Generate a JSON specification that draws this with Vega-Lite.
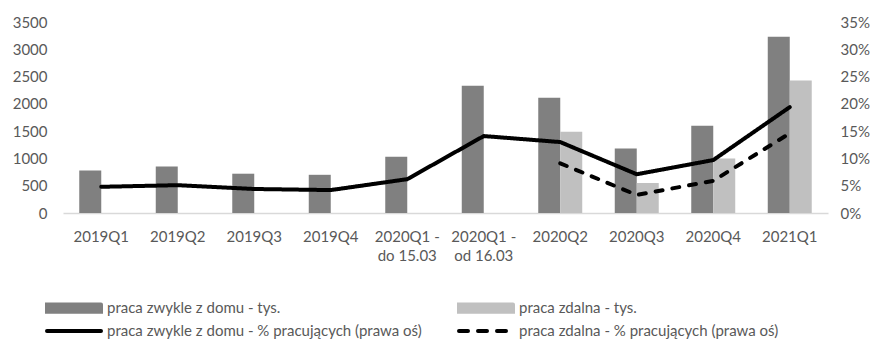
{
  "$schema": "https://vega.github.io/schema/vega-lite/v6.json",
  "width": 765,
  "height": 191,
  "autosize": {"type": "none"},
  "padding": {"left": 63, "top": 22, "right": 58, "bottom": 142},
  "background": "white",
  "config": {
    "view": {"stroke": null},
    "font": "Lato",
    "axis": {"labelFont": "Lato", "labelFontSize": 15, "labelColor": "#595959", "grid": false, "ticks": false, "title": null}
  },
  "layer": [
    {
      "data": {"values": [
        {"q": "2019Q1", "series": "praca zwykle z domu - tys.", "value": 780},
        {"q": "2019Q2", "series": "praca zwykle z domu - tys.", "value": 850},
        {"q": "2019Q3", "series": "praca zwykle z domu - tys.", "value": 720},
        {"q": "2019Q4", "series": "praca zwykle z domu - tys.", "value": 700},
        {"q": "2020Q1 - do 15.03", "series": "praca zwykle z domu - tys.", "value": 1030},
        {"q": "2020Q1 - od 16.03", "series": "praca zwykle z domu - tys.", "value": 2330},
        {"q": "2020Q2", "series": "praca zwykle z domu - tys.", "value": 2110},
        {"q": "2020Q3", "series": "praca zwykle z domu - tys.", "value": 1180},
        {"q": "2020Q4", "series": "praca zwykle z domu - tys.", "value": 1600},
        {"q": "2021Q1", "series": "praca zwykle z domu - tys.", "value": 3230},
        {"q": "2020Q2", "series": "praca zdalna - tys.", "value": 1490},
        {"q": "2020Q3", "series": "praca zdalna - tys.", "value": 550},
        {"q": "2020Q4", "series": "praca zdalna - tys.", "value": 1000},
        {"q": "2021Q1", "series": "praca zdalna - tys.", "value": 2430}
      ]},
      "mark": {"type": "bar"},
      "encoding": {
        "x": {
          "field": "q", "type": "nominal", "sort": null,
          "scale": {"domain": ["2019Q1", "2019Q2", "2019Q3", "2019Q4", "2020Q1 - do 15.03", "2020Q1 - od 16.03", "2020Q2", "2020Q3", "2020Q4", "2021Q1"], "paddingInner": 0.425, "paddingOuter": 0.2125},
          "axis": {"labelAngle": 0, "domain": true, "domainColor": "#d9d9d9", "domainWidth": 1.5, "labelPadding": 16, "labelBaseline": "top", "labelLineHeight": 19, "labelExpr": "split(replace(datum.label, ' - ', ' -|'), '|')"}
        },
        "xOffset": {
          "field": "series", "type": "nominal",
          "scale": {"domain": ["praca zwykle z domu - tys.", "praca zdalna - tys."], "paddingInner": 0, "paddingOuter": 0}
        },
        "y": {
          "field": "value", "type": "quantitative",
          "scale": {"domain": [0, 3500], "nice": false},
          "axis": {"orient": "left", "values": [0, 500, 1000, 1500, 2000, 2500, 3000, 3500], "format": "d", "domain": false, "labelPadding": 16}
        },
        "color": {
          "field": "series", "type": "nominal",
          "scale": {
            "domain": ["praca zwykle z domu - tys.", "praca zdalna - tys.", "praca zwykle z domu - % pracujących (prawa oś)", "praca zdalna - % pracujących (prawa oś)"],
            "range": ["#808080", "#c0c0c0", "#000000", "#000000"]
          },
          "legend": {
            "title": null, "orient": "none", "legendX": -18, "legendY": 275, "direction": "horizontal",
            "columns": 2, "columnPadding": 29, "rowPadding": 0, "padding": 0,
            "symbolSize": 324, "labelFontSize": 15, "labelColor": "#595959", "labelFont": "Lato", "labelOffset": 40, "labelLimit": 600,
            "encode": {
              "symbols": {
                "update": {
                  "shape": {"signal": "indexof(datum.value, '%') >= 0 ? 'M-1,0H5' : 'M-1,-0.4H5V0.4H-1Z'"},
                  "fill": {"signal": "datum.value == 'praca zwykle z domu - tys.' ? '#808080' : (datum.value == 'praca zdalna - tys.' ? '#c0c0c0' : 'transparent')"},
                  "stroke": {"signal": "indexof(datum.value, '%') >= 0 ? '#000000' : 'transparent'"},
                  "strokeWidth": {"value": 4},
                  "strokeCap": {"value": "round"},
                  "strokeDash": {"signal": "indexof(datum.value, 'zdalna - %') >= 0 ? [9, 10] : [1, 0]"},
                  "opacity": {"value": 1}
                }
              }
            }
          }
        }
      }
    },
    {
      "data": {"values": [
        {"q": "2019Q1", "series": "praca zwykle z domu - % pracujących (prawa oś)", "pct": 0.048},
        {"q": "2019Q2", "series": "praca zwykle z domu - % pracujących (prawa oś)", "pct": 0.051},
        {"q": "2019Q3", "series": "praca zwykle z domu - % pracujących (prawa oś)", "pct": 0.044},
        {"q": "2019Q4", "series": "praca zwykle z domu - % pracujących (prawa oś)", "pct": 0.042},
        {"q": "2020Q1 - do 15.03", "series": "praca zwykle z domu - % pracujących (prawa oś)", "pct": 0.062},
        {"q": "2020Q1 - od 16.03", "series": "praca zwykle z domu - % pracujących (prawa oś)", "pct": 0.141},
        {"q": "2020Q2", "series": "praca zwykle z domu - % pracujących (prawa oś)", "pct": 0.130},
        {"q": "2020Q3", "series": "praca zwykle z domu - % pracujących (prawa oś)", "pct": 0.071},
        {"q": "2020Q4", "series": "praca zwykle z domu - % pracujących (prawa oś)", "pct": 0.097},
        {"q": "2021Q1", "series": "praca zwykle z domu - % pracujących (prawa oś)", "pct": 0.194},
        {"q": "2020Q2", "series": "praca zdalna - % pracujących (prawa oś)", "pct": 0.091},
        {"q": "2020Q3", "series": "praca zdalna - % pracujących (prawa oś)", "pct": 0.033},
        {"q": "2020Q4", "series": "praca zdalna - % pracujących (prawa oś)", "pct": 0.059},
        {"q": "2021Q1", "series": "praca zdalna - % pracujących (prawa oś)", "pct": 0.146}
      ]},
      "mark": {"type": "line", "strokeWidth": 4, "strokeJoin": "round", "strokeCap": "round"},
      "encoding": {
        "x": {"field": "q", "type": "nominal", "sort": null},
        "y": {
          "field": "pct", "type": "quantitative",
          "scale": {"domain": [0, 0.35], "nice": false},
          "axis": {"orient": "right", "values": [0, 0.05, 0.1, 0.15, 0.2, 0.25, 0.3, 0.35], "format": ".0%", "domain": false, "labelPadding": 12}
        },
        "color": {"field": "series", "type": "nominal"},
        "strokeDash": {
          "field": "series", "type": "nominal",
          "scale": {"domain": ["praca zwykle z domu - % pracujących (prawa oś)", "praca zdalna - % pracujących (prawa oś)"], "range": [[1, 0], [7, 10]]},
          "legend": null
        }
      }
    }
  ],
  "resolve": {"scale": {"y": "independent"}}
}
